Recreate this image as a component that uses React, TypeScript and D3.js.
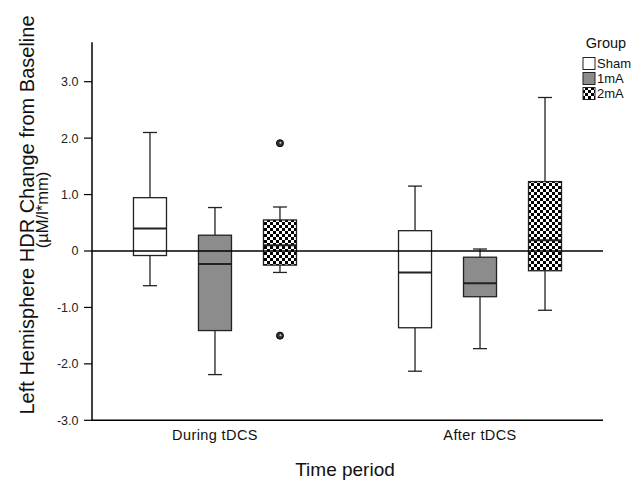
import React from 'react';
import * as d3 from 'd3';

const periods = ['During tDCS', 'After tDCS'];
const groups = ['Sham', '1mA', '2mA'];

// [whiskerLow, q1, median, q3, whiskerHigh] per period, per group
const shamStats = [
  [-0.615, -0.08, 0.4, 0.945, 2.1],
  [-2.13, -1.36, -0.38, 0.36, 1.15],
];
const oneMaStats = [
  [-2.19, -1.41, -0.23, 0.28, 0.77],
  [-1.73, -0.81, -0.57, -0.11, 0.035],
];
const twoMaStats = [
  [-0.38, -0.25, 0.1, 0.55, 0.78],
  [-1.05, -0.35, 0.19, 1.23, 2.72],
];
const twoMaOutliers = [[1.91, -1.5], []];

const yTicks = [3, 2, 1, 0, -1, -2, -3];

const statsByGroup = [shamStats, oneMaStats, twoMaStats];
const fills = ['#ffffff', '#8c8c8c', 'url(#checker)'];

const App = () => {
  const width = 638;
  const height = 482;
  const left = 92;
  const right = 603;

  const y = d3.scaleLinear().domain([-3, 3]).range([420.3, 81.7]);
  const x = d3.scalePoint().domain(periods).range([left, right]).padding(0.464);
  const g = d3.scaleBand().domain(groups).range([-81.5, 81.5]).paddingInner(0.492).paddingOuter(0);
  const boxW = g.bandwidth();
  const capW = 14;

  const font = 'Liberation Sans, Arial, Helvetica, sans-serif';

  return (
    <svg width={width} height={height} style={{ position: 'absolute', left: 0, top: 0 }} fontFamily={font}>
      <defs>
        <pattern id="checker" width={6} height={6} patternUnits="userSpaceOnUse">
          <rect width={6} height={6} fill="#fff" />
          <rect width={3} height={3} fill="#000" />
          <rect x={3} y={3} width={3} height={3} fill="#000" />
        </pattern>
      </defs>
      <rect width={width} height={height} fill="#fff" />

      {/* y axis */}
      <line x1={left} x2={left} y1={y(3.7)} y2={y(-3)} stroke="#000" strokeWidth={1.5} />
      <line x1={left} x2={right} y1={y(-3)} y2={y(-3)} stroke="#000" strokeWidth={1.5} />
      {yTicks.map(t => (
        <g key={t}>
          <line x1={left - 8} x2={left} y1={y(t)} y2={y(t)} stroke="#000" strokeWidth={1.2} />
          <text x={left - 13.5} y={y(t)} dy="0.35em" textAnchor="end" fontSize={12.5} fill="#222">
            {t === 0 ? '0' : t.toFixed(1)}
          </text>
        </g>
      ))}

      {periods.map(p => (
        <text key={p} x={x(p)} y={440} textAnchor="middle" fontSize={14.5} letterSpacing={0.4} fill="#111">{p}</text>
      ))}

      {/* boxes */}
      {periods.map((p, pi) =>
        groups.map((grp, gi) => {
          const [lo, q1, med, q3, hi] = statsByGroup[gi][pi];
          const cx = (x(p) as number) + (g(grp) as number) + boxW / 2;
          const bx = cx - boxW / 2;
          return (
            <g key={p + grp} stroke="#222" strokeWidth={1.3}>
              <line x1={cx} x2={cx} y1={y(hi)} y2={y(q3)} />
              <line x1={cx} x2={cx} y1={y(q1)} y2={y(lo)} />
              <line x1={cx - capW / 2} x2={cx + capW / 2} y1={y(hi)} y2={y(hi)} />
              <line x1={cx - capW / 2} x2={cx + capW / 2} y1={y(lo)} y2={y(lo)} />
              <rect x={bx} y={y(q3)} width={boxW} height={y(q1) - y(q3)} fill={fills[gi]} />
              <line x1={bx} x2={bx + boxW} y1={y(med)} y2={y(med)} strokeWidth={2} />
            </g>
          );
        })
      )}

      {/* outliers */}
      {periods.map((p, pi) =>
        twoMaOutliers[pi].map((v, i) => {
          const cx = (x(p) as number) + (g('2mA') as number) + boxW / 2;
          return (
            <g key={p + i}>
              <circle cx={cx} cy={y(v)} r={3.5} fill="#333" stroke="#000" strokeWidth={1} />
              <circle cx={cx + 0.5} cy={y(v) - 0.5} r={1} fill="#ccc" />
            </g>
          );
        })
      )}

      {/* zero line */}
      <line x1={left} x2={right} y1={y(0)} y2={y(0)} stroke="#000" strokeWidth={1.5} />

      {/* legend */}
      <text x={606} y={48} textAnchor="middle" fontSize={14.5} fill="#111">Group</text>
      {groups.map((grp, i) => (
        <g key={grp}>
          <rect x={583} y={57.5 + i * 15} width={12} height={12} fill={fills[i]} stroke="#222" strokeWidth={1} />
          <text x={597} y={63.5 + i * 15} dy="0.35em" fontSize={13} fill="#111">{grp}</text>
        </g>
      ))}

      {/* axis titles */}
      <text x={345} y={476} textAnchor="middle" fontSize={19} fill="#111">Time period</text>
      <text transform="translate(34,215) rotate(-90)" textAnchor="middle" fontSize={20} fill="#111">
        Left Hemisphere HDR Change from Baseline
      </text>
      <text transform="translate(48,210) rotate(-90)" textAnchor="middle" fontSize={16.5} fill="#111">
        (µM/l*mm)
      </text>
    </svg>
  );
};

export default App;
